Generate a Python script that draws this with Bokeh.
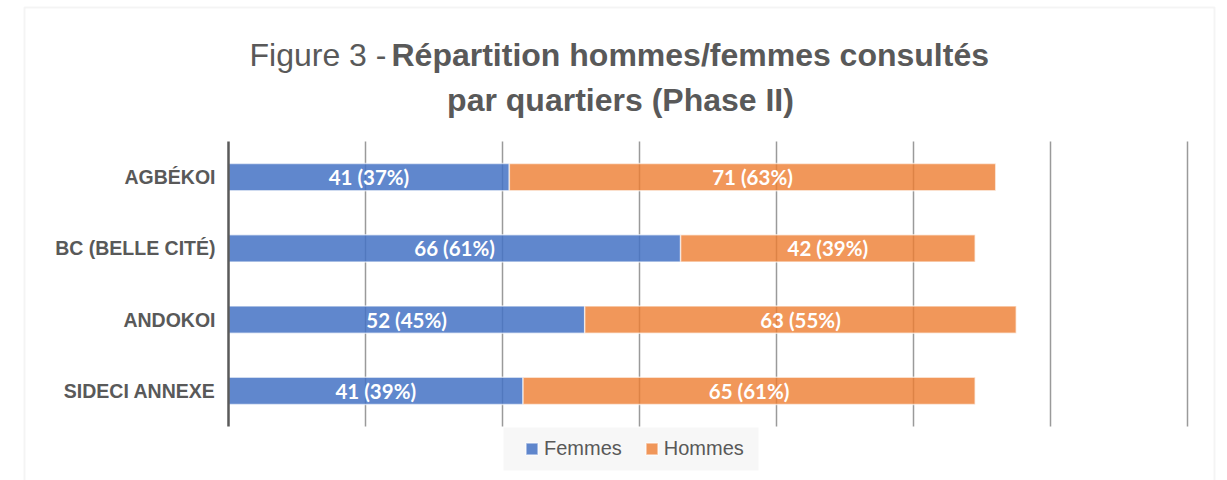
from bokeh.plotting import figure
from bokeh.models import (ColumnDataSource, Range1d, Label, Legend, LegendItem, BoxAnnotation)
from bokeh.core.properties import value
from bokeh.embed import file_html
from bokeh.resources import INLINE

# ---- data ----
quartiers = ["AGBÉKOI", "BC (BELLE CITÉ)", "ANDOKOI", "SIDECI ANNEXE"]
femmes = [41, 66, 52, 43]
hommes = [71, 43, 63, 66]
femmes_labels = ["41 (37%)", "66 (61%)", "52 (45%)", "41 (39%)"]
hommes_labels = ["71 (63%)", "42 (39%)", "63 (55%)", "65 (61%)"]
x_ticks = [20, 40, 60, 80, 100, 120, 140]
x_max = 140

n = len(quartiers)
ypos = [n - (i + 0.5) for i in range(n)]          # top category first
totals = [f + h for f, h in zip(femmes, hommes)]
src = ColumnDataSource(dict(
    q=quartiers, y=ypos, f=femmes, h=hommes, tot=totals,
    fmid=[f / 2 for f in femmes],
    hmid=[f + h / 2 for f, h in zip(femmes, hommes)],
    flab=femmes_labels, hlab=hommes_labels,
))

GRAY = "#595959"
W, H = 1227, 480
# plot-area placement (pixels)
FL, FR, FT, FB = 228, 1187, 141, 426
sx = (FR - FL) / x_max
sy = (FB - FT) / n

p = figure(width=W, height=H, output_backend="svg", toolbar_location=None,
           x_range=Range1d(-FL / sx, (W - FL) / sx),
           y_range=Range1d(-(H - FB) / sy, n + FT / sy),
           min_border=0)
p.min_border_left = p.min_border_right = p.min_border_top = p.min_border_bottom = 0
p.outline_line_color = None
p.axis.visible = False
p.grid.visible = False
p.background_fill_color = "white"
p.border_fill_color = "white"

# card frame
p.add_layout(BoxAnnotation(left=24, right=1214, top=H - 7, bottom=-20,
                           left_units="screen", right_units="screen",
                           top_units="screen", bottom_units="screen",
                           fill_color=None, line_color="#d9d9d9", line_width=2))

# vertical gridlines
p.segment(x0=x_ticks, y0=[0] * len(x_ticks), x1=x_ticks, y1=[n] * len(x_ticks),
          line_color="#9a9a9a", line_width=1.5)

rf = p.hbar(y="y", left=0, right="f", height=0.38, source=src,
            fill_color="#4472C4", fill_alpha=0.85,
            line_color="white", line_alpha=0.6, line_width=1.5)
rh = p.hbar(y="y", left="f", right="tot", height=0.38, source=src,
            fill_color="#ED7D31", fill_alpha=0.8,
            line_color="white", line_alpha=0.6, line_width=1.5)

# y axis line
p.segment(x0=[0], y0=[0], x1=[0], y1=[n], line_color="#5a5a5a", line_width=2.5)

# category labels
p.text(x=0, y="y", text="q", source=src, x_offset=-13, text_align="right",
       text_baseline="middle", text_color=GRAY, text_font=value("Liberation Sans"),
       text_font_style="bold", text_font_size="19.5px")

# bar value labels
p.text(x="fmid", y="y", text="flab", source=src, text_align="center",
       text_baseline="middle", text_color="white", text_font=value("Lato"),
       text_font_style="bold", text_font_size="20.5px")
p.text(x="hmid", y="y", text="hlab", source=src, text_align="center",
       text_baseline="middle", text_color="white", text_font=value("Lato"),
       text_font_style="bold", text_font_size="20.5px")

# title
T1, T2 = H - 54, H - 99
p.add_layout(Label(x=249, y=T1, x_units="screen", y_units="screen",
                   text="Figure 3 - ", text_font="Liberation Sans",
                   text_font_size="32px", text_color=GRAY,
                   text_align="left", text_baseline="alphabetic"))
p.add_layout(Label(x=391, y=T1, x_units="screen", y_units="screen",
                   text="Répartition hommes/femmes consultés", text_font="Liberation Sans",
                   text_font_style="bold", text_font_size="32px", text_color=GRAY,
                   text_align="left", text_baseline="alphabetic"))
p.add_layout(Label(x=620, y=T2, x_units="screen", y_units="screen",
                   text="par quartiers (Phase II)", text_font="Liberation Sans",
                   text_font_style="bold", text_font_size="32px", text_color=GRAY,
                   text_align="center", text_baseline="alphabetic"))

# legend background
p.add_layout(BoxAnnotation(left=503, right=758, top=H - 427, bottom=H - 470,
                           left_units="screen", right_units="screen",
                           top_units="screen", bottom_units="screen",
                           fill_color="#f7f7f7", fill_alpha=1, line_color=None))

legend = Legend(items=[LegendItem(label="Femmes", renderers=[rf]),
                       LegendItem(label="Hommes", renderers=[rh])],
                orientation="horizontal", location=(524, H - 460),
                background_fill_alpha=0, border_line_color=None,
                padding=10, margin=0, spacing=22,
                glyph_width=15, glyph_height=15, label_standoff=5,
                label_text_font="Liberation Sans", label_text_font_size="20px",
                label_text_color=GRAY)
p.add_layout(legend, "center")

open("out.html", "w").write(file_html(p, INLINE))
